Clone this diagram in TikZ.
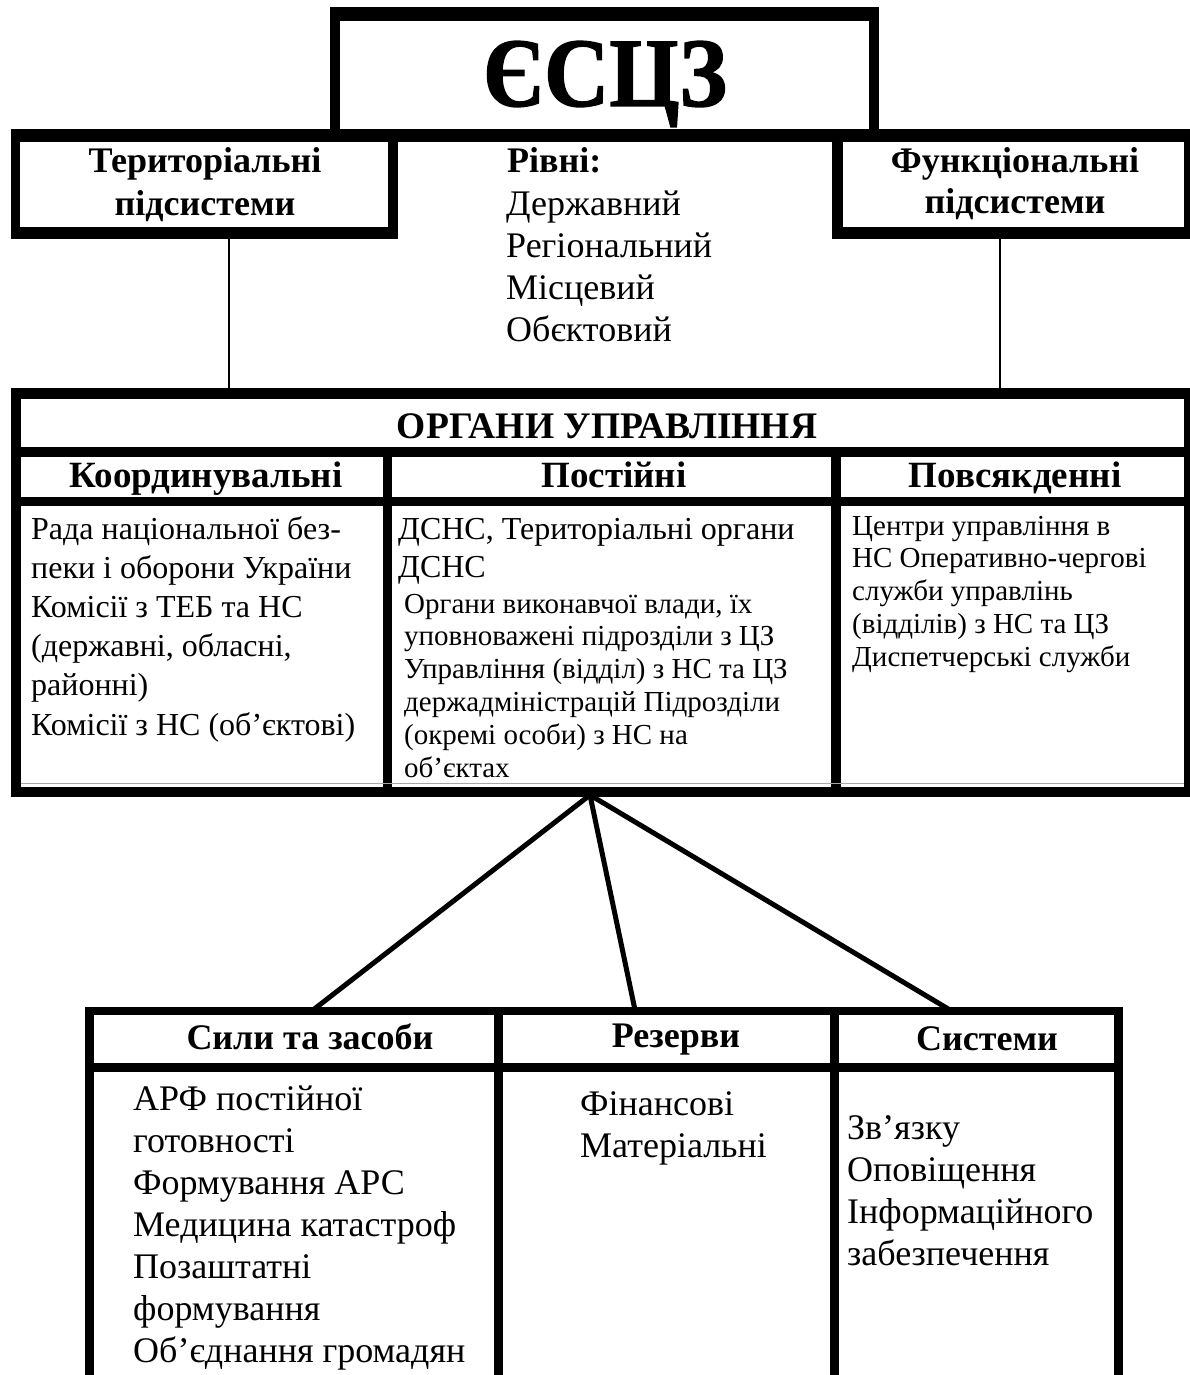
\documentclass[tikz,border=0pt]{standalone}
\usepackage{fontspec}
\setmainfont{Liberation Serif}
\newfontfamily\heavyfont{Liberation Serif}[FakeBold=1.5]
\begin{document}
\begin{tikzpicture}[x=1pt,y=-1pt,
  fsz/.style={font=\fontsize{#1}{#1}\selectfont},
  bfs/.style={font=\fontsize{#1}{#1}\selectfont\bfseries},
  lft/.style={anchor=base west, inner sep=0pt},
  ctr/.style={anchor=base, inner sep=0pt},
  bar/.style={fill=black},
  link/.style={draw=black, line width=2pt},
  spoke/.style={draw=black, line width=5pt, line cap=round}]
\useasboundingbox (0,0) rectangle (1190,1375);
\clip (0,0) rectangle (1190,1375);
\fill[white] (0,0) rectangle (1190,1375);

% ---- top box ЄСЦЗ
\fill[bar] (330,7) rectangle (879,21);
\fill[bar] (330,7) rectangle (340,142);
\fill[bar] (869,7) rectangle (879,142);
\node[ctr, name=escz] at (605,106) {\fontsize{98}{98}\heavyfont\bfseries\scalebox{0.92}[1]{ЄСЦЗ}};

% ---- horizontal bar
\fill[bar] (11,129) rectangle (1190,142);

% ---- territorial subsystems box
\fill[bar] (11,129) rectangle (20,239);
\fill[bar] (388,129) rectangle (398,239);
\fill[bar] (11,227) rectangle (398,239);
\node[ctr, bfs=36, name=terr1] at (205,173) {Територіальні};
\node[ctr, bfs=36, name=terr2] at (205,215) {підсистеми};

% ---- functional subsystems box
\fill[bar] (832,129) rectangle (843,239);
\fill[bar] (1184,129) rectangle (1190,239);
\fill[bar] (832,227) rectangle (1190,239);
\node[ctr, bfs=36, name=func1] at (1015,173) {Функціональні};
\node[ctr, bfs=36, name=func2] at (1015,214) {підсистеми};

% ---- levels
\node[lft, bfs=36, name=lev0] at (507,173) {Рівні:};
\foreach \t [count=\i] in {Державний, Регіональний, Місцевий, Обєктовий}
  \node[lft, fsz=36, name=lev\i] at (506, {173+42*\i}) {\t};

% ---- connectors from subsystems
\coordinate (terrB) at (229,239);
\coordinate (orgL) at (229,388);
\coordinate (funcB) at (999.5,239);
\coordinate (orgR) at (999.5,388);
\draw[link] (terrB) -- (orgL);
\draw[link] (funcB) -- (orgR);

% ---- ОРГАНИ УПРАВЛІННЯ table
\fill[bar] (11,388) rectangle (1190,399);
\fill[bar] (11,388) rectangle (21,797);
\fill[bar] (1184,388) rectangle (1190,797);
\fill[bar] (11,447) rectangle (1190,457);
\fill[bar] (11,497) rectangle (1190,506);
\fill[bar] (11,787) rectangle (1190,797);
\fill[bar] (383,452) rectangle (392,797);
\fill[bar] (831,452) rectangle (841,797);
\draw[gray!70, line width=1pt] (21,783) -- (1184,783);

\node[ctr, bfs=37.5, name=org] at (607,438) {ОРГАНИ УПРАВЛІННЯ};
\node[ctr, bfs=37, name=h1] at (206,487) {Координувальні};
\node[ctr, bfs=37, name=h2] at (614,487) {Постійні};
\node[ctr, bfs=37, name=h3] at (1015,487) {Повсякденні};

\foreach \t [count=\i from 0] in {Рада національної без-, пеки і оборони України,
   Комісії з ТЕБ та НС, {(державні, обласні,}, районні), Комісії з НС (об’єктові)}
  \node[lft, fsz=32, name=ca\i] at (31, {539+39.2*\i}) {\t};

\node[lft, fsz=32, name=cb0] at (398,539) {ДСНС, Територіальні органи};
\node[lft, fsz=32, name=cb1] at (398,577) {ДСНС};
\foreach \t [count=\i from 2] in {{Органи виконавчої влади, їх}, уповноважені підрозділи з ЦЗ,
   Управління (відділ) з НС та ЦЗ, держадміністрацій Підрозділи, (окремі особи) з НС на, об’єктах}
  \node[lft, fsz=29, name=cb\i] at (404, {613+32.8*(\i-2)}) {\t};

\foreach \t [count=\i from 0] in {Центри управління в, НС Оперативно-чергові,
   служби управлінь, (відділів) з НС та ЦЗ, Диспетчерські служби}
  \node[lft, fsz=29, name=cc\i] at (852, {535+32.8*\i}) {\t};

% ---- spokes to lower table
\coordinate (apex) at (590,795);
\coordinate (s1) at (313,1010);
\coordinate (s2) at (635,1010);
\coordinate (s3) at (950,1010);
\draw[spoke] (apex) -- (s1);
\draw[spoke] (apex) -- (s2);
\draw[spoke] (apex) -- (s3);

% ---- lower table
\fill[bar] (85,1007) rectangle (1123,1015);
\fill[bar] (85,1007) rectangle (94,1380);
\fill[bar] (1114,1007) rectangle (1123,1380);
\fill[bar] (494,1007) rectangle (503,1380);
\fill[bar] (830,1007) rectangle (839,1380);
\fill[bar] (85,1063) rectangle (1123,1072);

\node[ctr, bfs=36, name=l1] at (310,1049) {Сили та засоби};
\node[ctr, bfs=36, name=l2] at (676,1047) {Резерви};
\node[ctr, bfs=36, name=l3] at (987,1050) {Системи};

\foreach \t [count=\i from 0] in {АРФ постійної, готовності, Формування АРС,
   Медицина катастроф, Позаштатні, формування, Об’єднання громадян}
  \node[lft, fsz=36, name=da\i] at (133, {1110+42*\i}) {\t};

\foreach \t [count=\i from 0] in {Фінансові, Матеріальні}
  \node[lft, fsz=36, name=db\i] at (580, {1115+42*\i}) {\t};

\foreach \t [count=\i from 0] in {Зв’язку, Оповіщення, Інформаційного, забезпечення}
  \node[lft, fsz=36, name=dc\i] at (847, {1139+42*\i}) {\t};
\end{tikzpicture}
\end{document}
